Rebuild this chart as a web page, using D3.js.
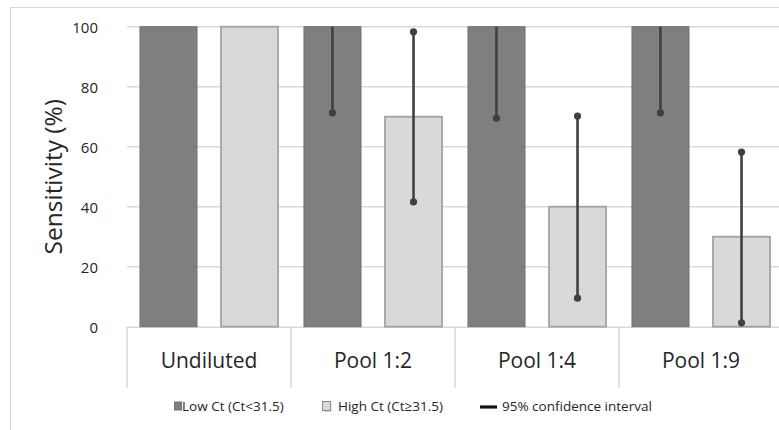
<!DOCTYPE html>
<html>
<head>
<meta charset="utf-8">
<script src="https://cdn.jsdelivr.net/npm/d3@7"></script>
<style>
  html, body { margin: 0; padding: 0; background: #fff; }
  svg { display: block; }
  text { font-family: "Open Sans", Lato, sans-serif; fill: #262626; }
</style>
</head>
<body>
<svg id="chart" width="779" height="430"></svg>
<script>
// Sensitivity by dilution, split by Ct group, with 95% confidence intervals
const categories = ["Undiluted", "Pool 1:2", "Pool 1:4", "Pool 1:9"];
const seriesNames = ["Low Ct (Ct<31.5)", "High Ct (Ct\u226531.5)"];
const lowCt = [100, 100, 100, 100];
const highCt = [100, 70, 40, 30];
const lowCtLower = [null, 71.3, 69.5, 71.3];
const lowCtUpper = [null, 100, 100, 100];
const highCtLower = [null, 41.6, 9.5, 1.3];
const highCtUpper = [null, 98.3, 70.2, 58.2];
const yTicks = [0, 20, 40, 60, 80, 100];
const ciLabel = "95% confidence interval";

const svg = d3.select("#chart");
const W = 779, H = 430;
const plot = { left: 127, right: 783, top: 26.7, bottom: 326.7 };

const x = d3.scaleBand().domain(categories).range([plot.left, plot.right]).paddingInner(0).paddingOuter(0);
const xs = d3.scaleBand().domain([0, 1]).range([0, x.bandwidth()]).paddingInner(24 / 81).paddingOuter(0.16);
const y = d3.scaleLinear().domain([0, 100]).range([plot.bottom, plot.top]);

const colors = ["#7f7f7f", "#d9d9d9"];
const strokes = ["#727272", "#a3a3a3"];

// chart frame
svg.append("line").attr("x1", 10).attr("x2", W).attr("y1", 7.5).attr("y2", 7.5)
  .attr("stroke", "#d9d9d9").attr("stroke-width", 1.2);
svg.append("line").attr("x1", 10.5).attr("x2", 10.5).attr("y1", 7).attr("y2", H)
  .attr("stroke", "#d9d9d9").attr("stroke-width", 1.2);

// gridlines
svg.append("g").selectAll("line").data(yTicks.filter(d => d > 0)).join("line")
  .attr("x1", plot.left).attr("x2", plot.right)
  .attr("y1", d => y(d)).attr("y2", d => y(d))
  .attr("stroke", "#d9d9d9").attr("stroke-width", 1.5);

// y tick labels
svg.append("g").selectAll("text").data(yTicks).join("text")
  .attr("x", 98).attr("y", d => y(d) + 6)
  .attr("text-anchor", "end").attr("font-size", 15).text(d => d);

// y axis title
svg.append("text")
  .attr("transform", `translate(62,${(plot.top + plot.bottom) / 2}) rotate(-90)`)
  .attr("text-anchor", "middle")
  .attr("font-size", 24.5).text("Sensitivity (%)");

// category axis: baseline, separators, labels
const axisG = svg.append("g");
axisG.append("line").attr("x1", plot.left).attr("x2", plot.right)
  .attr("y1", plot.bottom + 0.5).attr("y2", plot.bottom + 0.5)
  .attr("stroke", "#d9d9d9").attr("stroke-width", 1.5);
axisG.selectAll("line.sep").data(categories.concat([null])).join("line").attr("class", "sep")
  .attr("x1", (d, i) => plot.left + i * x.step()).attr("x2", (d, i) => plot.left + i * x.step())
  .attr("y1", plot.bottom).attr("y2", 388)
  .attr("stroke", "#d9d9d9").attr("stroke-width", 1.5);
axisG.selectAll("text").data(categories).join("text")
  .attr("x", d => x(d) + x.bandwidth() / 2).attr("y", 368)
  .attr("text-anchor", "middle").attr("font-size", 21).text(d => d);

// bars
const values = [lowCt, highCt];
const barG = svg.append("g");
values.forEach((vals, s) => {
  barG.append("g").selectAll("rect").data(categories).join("rect")
    .attr("x", (d, i) => x(d) + xs(s))
    .attr("width", xs.bandwidth())
    .attr("y", (d, i) => y(vals[i]))
    .attr("height", (d, i) => y(0) - y(vals[i]))
    .attr("fill", colors[s]).attr("stroke", strokes[s]).attr("stroke-width", s ? 1.8 : 1);
});

// confidence intervals
const ci = [[lowCtLower, lowCtUpper], [highCtLower, highCtUpper]];
const ciG = svg.append("g");
ci.forEach(([lo, hi], s) => {
  categories.forEach((c, i) => {
    if (lo[i] == null) return;
    const cx = x(c) + xs(s) + xs.bandwidth() / 2;
    ciG.append("line").attr("x1", cx).attr("x2", cx)
      .attr("y1", y(lo[i])).attr("y2", y(hi[i]))
      .attr("stroke", "#404040").attr("stroke-width", 2.6);
    [lo[i], hi[i]].filter(v => v < 100).forEach(v => {
      ciG.append("circle").attr("cx", cx).attr("cy", y(v)).attr("r", 3.6).attr("fill", "#404040");
    });
  });
});

// legend
const legY = 411;
const leg = svg.append("g");
leg.append("rect").attr("x", 174.5).attr("y", legY - 9).attr("width", 7).attr("height", 8)
  .attr("fill", colors[0]).attr("stroke", strokes[0]);
leg.append("text").attr("x", 182).attr("y", legY).attr("font-size", 13.5).text(seriesNames[0]);
leg.append("rect").attr("x", 323.5).attr("y", legY - 8).attr("width", 8).attr("height", 9)
  .attr("fill", "#b0b0b0").attr("opacity", 0.5);
leg.append("rect").attr("x", 322.5).attr("y", legY - 9.5).attr("width", 8).attr("height", 9)
  .attr("fill", colors[1]).attr("stroke", "#8c8c8c");
leg.append("text").attr("x", 338).attr("y", legY).attr("font-size", 13.5).text(seriesNames[1]);
leg.append("line").attr("x1", 480).attr("x2", 497).attr("y1", legY - 4).attr("y2", legY - 4)
  .attr("stroke", "#111").attr("stroke-width", 3.2);
leg.append("text").attr("x", 502).attr("y", legY).attr("font-size", 13.5).text(ciLabel);
</script>
</body>
</html>
